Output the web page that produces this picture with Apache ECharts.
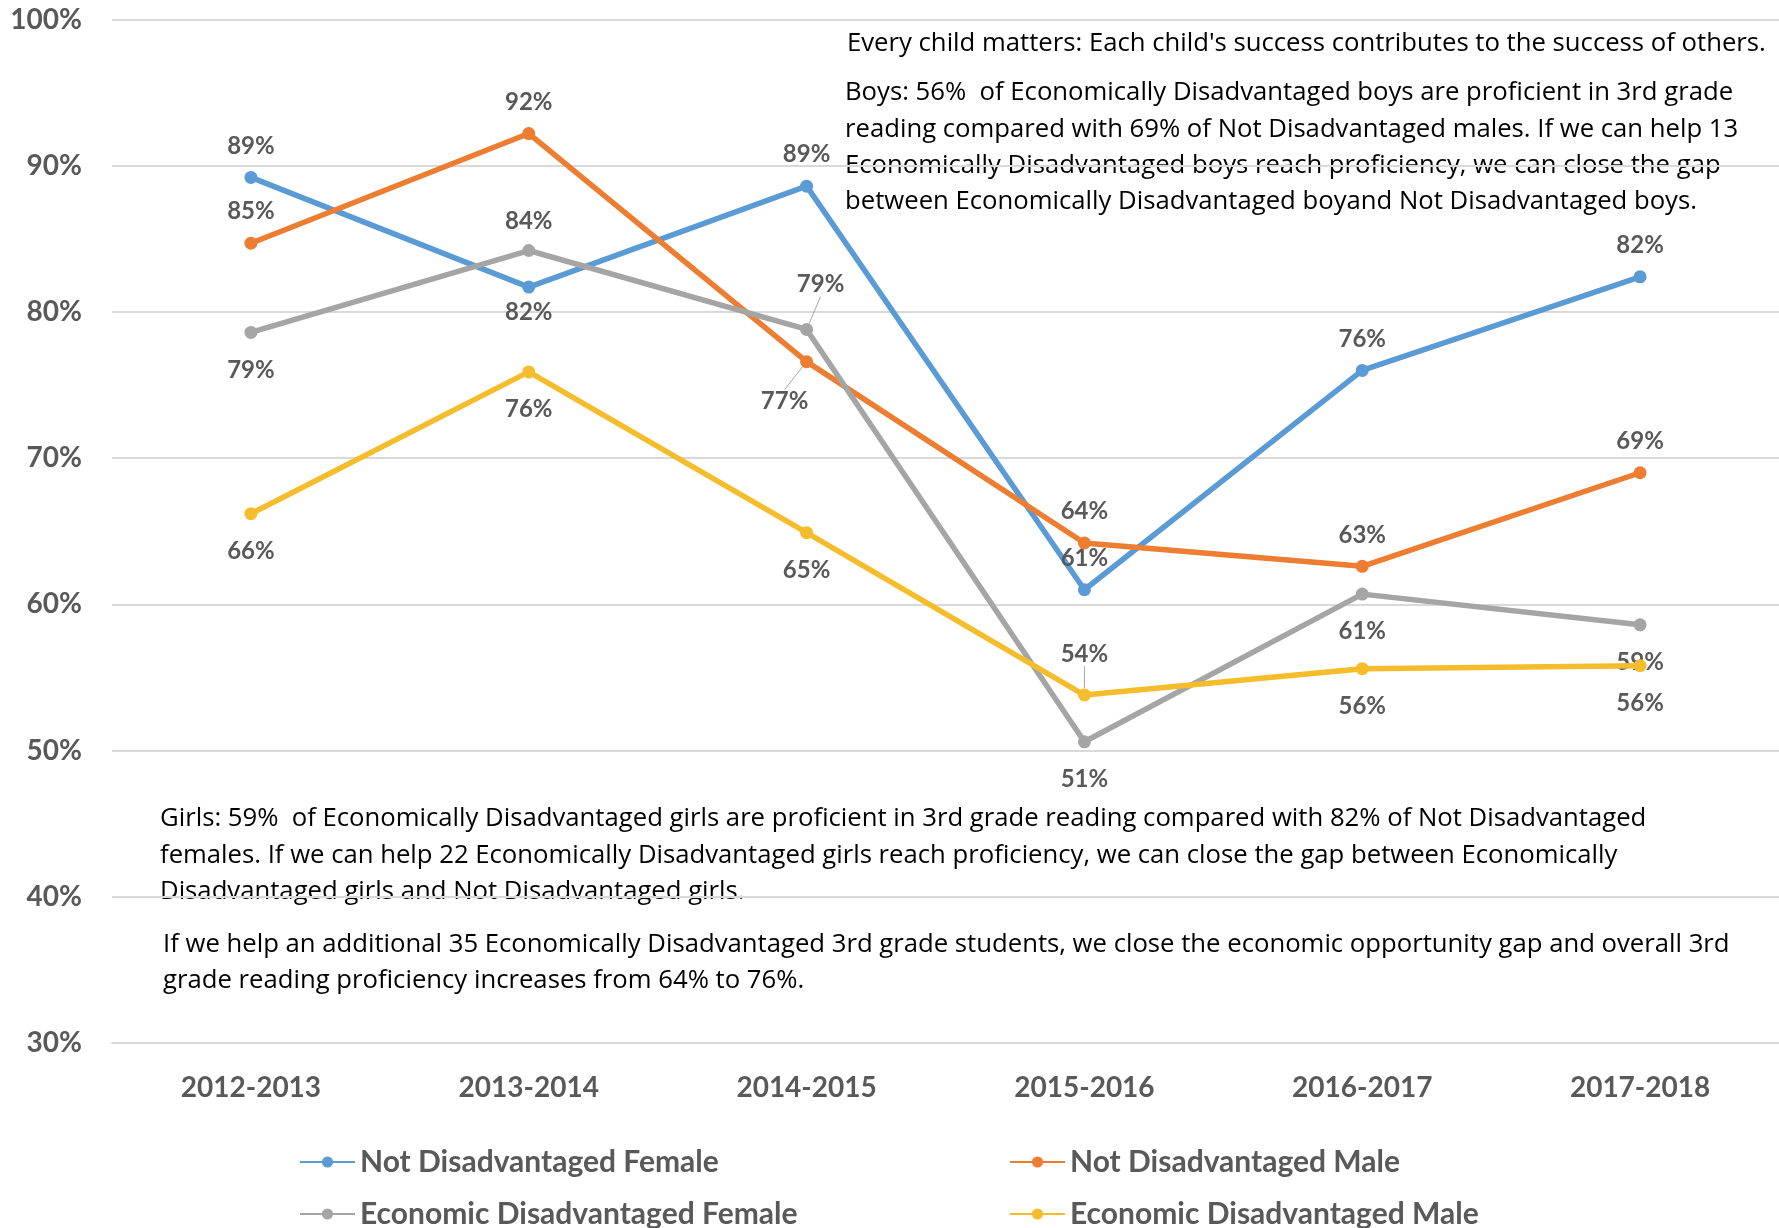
<!DOCTYPE html>
<html>
<head>
<meta charset="utf-8">
<script src="https://cdn.jsdelivr.net/npm/echarts@6/dist/echarts.min.js"></script>
<style>
html,body{margin:0;padding:0;background:#fff;}
#chart{width:1779px;height:1228px;}
</style>
</head>
<body>
<div id="chart"></div>
<script>
const categories = ['2012-2013','2013-2014','2014-2015','2015-2016','2016-2017','2017-2018'];
const notDisFemale = [89.2, 81.7, 88.6, 61.0, 76.0, 82.4];
const notDisMale   = [84.7, 92.2, 76.6, 64.2, 62.6, 69.0];
const ecoDisFemale = [78.6, 84.2, 78.8, 50.6, 60.7, 58.6];
const ecoDisMale   = [66.2, 75.9, 64.9, 53.8, 55.6, 55.8];
const seriesNames = ['Not Disadvantaged Female','Not Disadvantaged Male','Economic Disadvantaged Female','Economic Disadvantaged Male'];
const colors = ['#5B9BD5','#ED7D31','#A5A5A5','#F5BD2C'];
// label placement per point: 't' above, 'b' below, 'm' moved with leader line
const labelPos = [
  ['t','b','t','t','t','t'],
  ['t','t','m','t','t','t'],
  ['b','t','m','b','b','b'],
  ['b','b','b','m','b','b']
];
const labelDist = {'0-1':7,'2-1':11};
const moved = {'1-2':[-22,40],'2-2':[14,-45],'3-3':[0,-41]};

const textColor = '#595959';
const labelFont = {fontFamily:'Lato', fontWeight:'bold', fontSize:24, color:textColor};

function buildData(vals, si){
  return vals.map((v,i)=>{
    const p = labelPos[si][i];
    if (p==='m'){
      return {value:v, label:{position:'inside'}, labelLine:{show:true, lineStyle:{color:'#A6A6A6', width:1}}};
    }
    const k = si+'-'+i;
    const d = labelDist[k] !== undefined ? labelDist[k] : (p==='t'?13:19);
    return {value:v, label:{position: p==='t'?'top':'bottom', distance: d}};
  });
}

const allVals = [notDisFemale, notDisMale, ecoDisFemale, ecoDisMale];
const series = allVals.map((vals,si)=>({
  name: seriesNames[si],
  type:'line',
  data: buildData(vals, si),
  symbol:'circle',
  symbolSize:13,
  lineStyle:{width:5.5, color:colors[si]},
  itemStyle:{color:colors[si]},
  z: 2+si,
  label:{show:true, formatter:(p)=>Math.round(p.value)+'%', ...labelFont},
  labelLayout:(params)=>{
    const k = si+'-'+params.dataIndex;
    if (moved[k]) return {dx:moved[k][0], dy:moved[k][1]};
    return {};
  },
  emphasis:{disabled:true},
  animation:false
}));

const legendBase = {
  itemWidth:55, itemHeight:14,
  textStyle:{fontFamily:'Lato', fontWeight:'bold', fontSize:30, color:textColor},
  selectedMode:false
};
const legends = [
  {...legendBase, data:[seriesNames[0]], left:294, top:1142},
  {...legendBase, data:[seriesNames[1]], left:1004, top:1142},
  {...legendBase, data:[seriesNames[2]], left:294, top:1194},
  {...legendBase, data:[seriesNames[3]], left:1004, top:1194}
];

const noteFont = {fontFamily:'Open Sans', fontSize:25.7, fill:'#000'};
const option = {
  animation:false,
  grid:{left:112, right:0, top:19.5, bottom:185, containLabel:false},
  xAxis:{
    type:'category', data:categories, boundaryGap:true,
    axisLine:{show:true, lineStyle:{color:'#D9D9D9', width:2}},
    axisTick:{show:false},
    axisLabel:{fontFamily:'Lato', fontWeight:'bold', fontSize:28, color:textColor, margin:31}
  },
  yAxis:{
    type:'value', min:30, max:100, interval:10,
    axisLine:{show:false}, axisTick:{show:false},
    splitLine:{lineStyle:{color:'#D9D9D9', width:2}},
    axisLabel:{formatter:'{value}%', fontFamily:'Lato', fontWeight:'bold', fontSize:28, color:textColor, margin:30}
  },
  legend: legends,
  series: series,
  graphic:[
    {type:'text', left:847, top:29, style:{...noteFont, lineHeight:30, text:"Every child matters: Each child's success contributes to the success of others."}},
    {type:'text', left:845, top:75, style:{...noteFont, lineHeight:36.3, text:
      "Boys: 56%  of Economically Disadvantaged boys are proficient in 3rd grade\nreading compared with 69% of Not Disadvantaged males. If we can help 13\nEconomically Disadvantaged boys reach proficiency, we can close the gap\nbetween Economically Disadvantaged boyand Not Disadvantaged boys."}},
    {type:'text', left:160, top:801, style:{...noteFont, lineHeight:36.3, text:
      "Girls: 59%  of Economically Disadvantaged girls are proficient in 3rd grade reading compared with 82% of Not Disadvantaged\nfemales. If we can help 22 Economically Disadvantaged girls reach proficiency, we can close the gap between Economically\nDisadvantaged girls and Not Disadvantaged girls."}},
    {type:'text', left:163, top:927, style:{...noteFont, lineHeight:35.5, text:
      "If we help an additional 35 Economically Disadvantaged 3rd grade students, we close the economic opportunity gap and overall 3rd\ngrade reading proficiency increases from 64% to 76%."}}
  ]
};
const chart = echarts.init(document.getElementById('chart'), null, {renderer:'canvas'});
chart.setOption(option);
</script>
</body>
</html>
